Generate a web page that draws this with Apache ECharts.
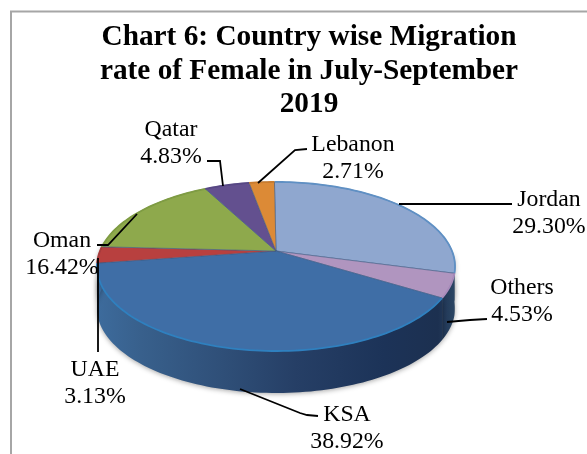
<!DOCTYPE html>
<html><head><meta charset="utf-8">
<style>html,body{margin:0;padding:0;background:#fff}#c{width:587px;height:454px}</style>
<script src="https://cdn.jsdelivr.net/npm/echarts@6/dist/echarts.min.js"></script>
</head><body><div id="c"></div>
<script>
var categories = ['Jordan','Others','KSA','UAE','Oman','Qatar','Lebanon'];
var values = [29.30,4.53,38.92,3.13,16.42,4.83,2.71];
var titleLines = 'Chart 6: Country wise Migration\nrate of Female in July-September\n2019';

var topColors = ['#8fa7cf','#b095bf','#3f6ea6','#b8403f','#8ea94c','#63508f','#dc8a36'];
var edgeColors = ['#5f90c4','#a98bbb','#2f80bf','#a83a3a','#7f9c42','#574784','#c97c2e'];

// perspective layout of the tilted disc
var P = {ax:276, ay:251, a:176, b:81.7, p:0.183, depth:42, startDeg:-0.6};
var labelLayout = [
 {x:549,y:205,leader:[[399,204],[512,204]]},
 {x:522,y:293,leader:[[447,322],[470,320],[487,319]]},
 {x:347,y:420,leader:[[240,389],[300,413],[307,415],[318,416]]},
 {x:95,y:375,leader:[[98,258],[98,352]]},
 {x:62,y:246,leader:[[97,245],[108,245],[137,214]]},
 {x:171,y:135,leader:[[207,161],[220,161],[223,186]]},
 {x:353,y:150,leader:[[258,183],[295,150],[307,149]]}
];
var LABEL_FONT = '23.8px "Liberation Serif"';
var LINE_H = 27;
var BASELINE_SHIFT = 19;

var total = values.reduce(function(s,v){return s+v;},0);
function angleRange(i){
  var before = values.slice(0,i).reduce(function(s,v){return s+v;},0);
  return [P.startDeg+before/total*360, P.startDeg+(before+values[i])/total*360];
}
function project(deg){
  var r=deg*Math.PI/180, X=Math.sin(r), Y=Math.cos(r), w=1+P.p*Y;
  return [P.ax+P.a*X/w, P.ay-P.b*Y/w];
}
function arcPts(d0,d1){
  var pts=[],n=Math.max(6,Math.ceil((d1-d0)/1.5));
  for(var k=0;k<=n;k++) pts.push(project(d0+(d1-d0)*k/n));
  return pts;
}
var wallFill = {type:'linear',x:98,y:0,x2:456,y2:0,global:true,colorStops:[
  {offset:0,color:'#3d6b9c'},{offset:0.12,color:'#38608c'},{offset:0.35,color:'#2f4f78'},
  {offset:0.55,color:'#263f66'},{offset:0.8,color:'#1c3358'},{offset:0.95,color:'#1c3050'},{offset:1,color:'#2c4866'}]};

var chart = echarts.init(document.getElementById('c'),null,{renderer:'canvas'});
chart.setOption({
  animation:false,
  backgroundColor:'#fff',
  title:{text:titleLines,left:304,top:16,textAlign:'center',
    textStyle:{fontFamily:'Liberation Serif',fontWeight:'bold',fontSize:29.3,lineHeight:33.5,color:'#000'}},
  graphic:[{type:'polyline',shape:{points:[[11,454],[11,11.5],[587,11.5]]},
    style:{stroke:'#a6a6a6',lineWidth:2,fill:null},silent:true}],
  series:[
   {type:'custom',name:'walls',coordinateSystem:'none',data:values,z:1,renderItem:function(params){
     var i=params.dataIndex,r=angleRange(i);
     var d0=Math.max(r[0],90),d1=Math.min(r[1],278);
     if(d1<=d0) return {type:'group',children:[]};
     var t=arcPts(d0,d1);
     var b=t.slice().reverse().map(function(p){return [p[0],p[1]+P.depth];});
     return {type:'polygon',shape:{points:t.concat(b)},
       style:{fill:wallFill,stroke:null,shadowBlur:5,shadowColor:'rgba(0,0,0,0.35)',shadowOffsetY:1}};
   }},
   {type:'custom',name:'tops',coordinateSystem:'none',data:values,z:2,renderItem:function(params){
     var i=params.dataIndex,r=angleRange(i),arc=arcPts(r[0],r[1]);
     return {type:'group',children:[
       {type:'polygon',shape:{points:[[P.ax,P.ay]].concat(arc)},
        style:{fill:topColors[i],stroke:'rgba(60,90,130,0.55)',lineWidth:1}},
       {type:'polyline',shape:{points:arc},style:{fill:null,stroke:edgeColors[i],lineWidth:1.8}}
     ]};
   }},
   {type:'custom',name:'labels',coordinateSystem:'none',data:values,z:3,renderItem:function(params){
     var i=params.dataIndex,L=labelLayout[i];
     return {type:'group',children:[
       {type:'polyline',shape:{points:L.leader},style:{fill:null,stroke:'#000',lineWidth:1.8}},
       {type:'text',style:{x:L.x,y:L.y-BASELINE_SHIFT,text:categories[i]+'\n'+values[i].toFixed(2)+'%',
         font:LABEL_FONT,lineHeight:LINE_H,fill:'#000',textAlign:'center',textVerticalAlign:'top'}}
     ]};
   }}
  ]
});
</script></body></html>
